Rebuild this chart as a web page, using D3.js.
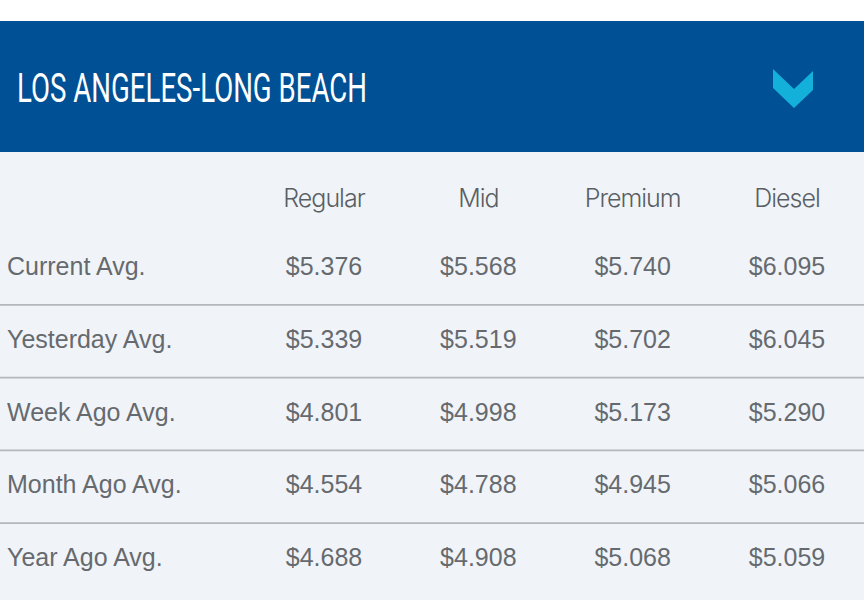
<!DOCTYPE html>
<html>
<head>
<meta charset="utf-8">
<script src="https://cdn.jsdelivr.net/npm/d3@7"></script>
<style>
html, body { margin: 0; padding: 0; background: #fff; }
</style>
</head>
<body>
<svg id="chart" width="864" height="600"></svg>
<script>
const title = 'LOS ANGELES-LONG BEACH';
const grades = ['Regular', 'Mid', 'Premium', 'Diesel'];
const periods = ['Current Avg.', 'Yesterday Avg.', 'Week Ago Avg.', 'Month Ago Avg.', 'Year Ago Avg.'];
const regular = ['$5.376', '$5.339', '$4.801', '$4.554', '$4.688'];
const mid = ['$5.568', '$5.519', '$4.998', '$4.788', '$4.908'];
const premium = ['$5.740', '$5.702', '$5.173', '$4.945', '$5.068'];
const diesel = ['$6.095', '$6.045', '$5.290', '$5.066', '$5.059'];
const columns = [regular, mid, premium, diesel];

const svg = d3.select('#chart');

svg.append('rect').attr('y', 21).attr('width', 864).attr('height', 131).attr('fill', '#005096');
svg.append('rect').attr('y', 152).attr('width', 864).attr('height', 448).attr('fill', '#f0f4f9');

svg.append('text')
  .attr('x', 17).attr('y', 102)
  .attr('fill', '#fff')
  .attr('font-family', 'Roboto, sans-serif')
  .attr('font-size', 40)
  .attr('textLength', 350)
  .attr('lengthAdjust', 'spacingAndGlyphs')
  .text(title);

// chevron
svg.append('path')
  .attr('d', d3.line()([[773, 69], [794, 89], [813, 71], [813, 90], [794, 108], [773, 88]]) + 'Z')
  .attr('fill', '#13b0da');

const x = d3.scalePoint().domain(grades).range([324, 787]);
const y = d3.scalePoint().domain(periods).range([266, 557]);

svg.selectAll('.grade').data(grades).join('text')
  .attr('class', 'grade')
  .attr('x', d => x(d)).attr('y', 207)
  .attr('text-anchor', 'middle')
  .attr('fill', '#5a5f64')
  .attr('font-family', 'Inter, sans-serif')
  .attr('font-weight', 300)
  .attr('font-size', 25)
  .attr('letter-spacing', -1)
  .text(d => d);

svg.selectAll('.rule').data(periods.slice(0, -1)).join('line')
  .attr('class', 'rule')
  .attr('x1', 0).attr('x2', 864)
  .attr('y1', d => y(d) + 38.9).attr('y2', d => y(d) + 38.9)
  .attr('stroke', '#b4b7ba').attr('stroke-width', 1.6);

svg.selectAll('.period').data(periods).join('text')
  .attr('class', 'period')
  .attr('x', 7).attr('y', d => y(d) + 9)
  .attr('fill', '#666a6e')
  .attr('font-family', '"Liberation Sans", sans-serif')
  .attr('font-size', 25)
  .text(d => d);

columns.forEach((vals, c) => {
  svg.selectAll('.val' + c).data(vals).join('text')
    .attr('class', 'val' + c)
    .attr('x', x(grades[c]))
    .attr('y', (d, i) => y(periods[i]) + 9)
    .attr('text-anchor', 'middle')
    .attr('fill', '#666a6e')
    .attr('font-family', '"Liberation Sans", sans-serif')
    .attr('font-size', 25)
    .text(d => d);
});
</script>
</body>
</html>
